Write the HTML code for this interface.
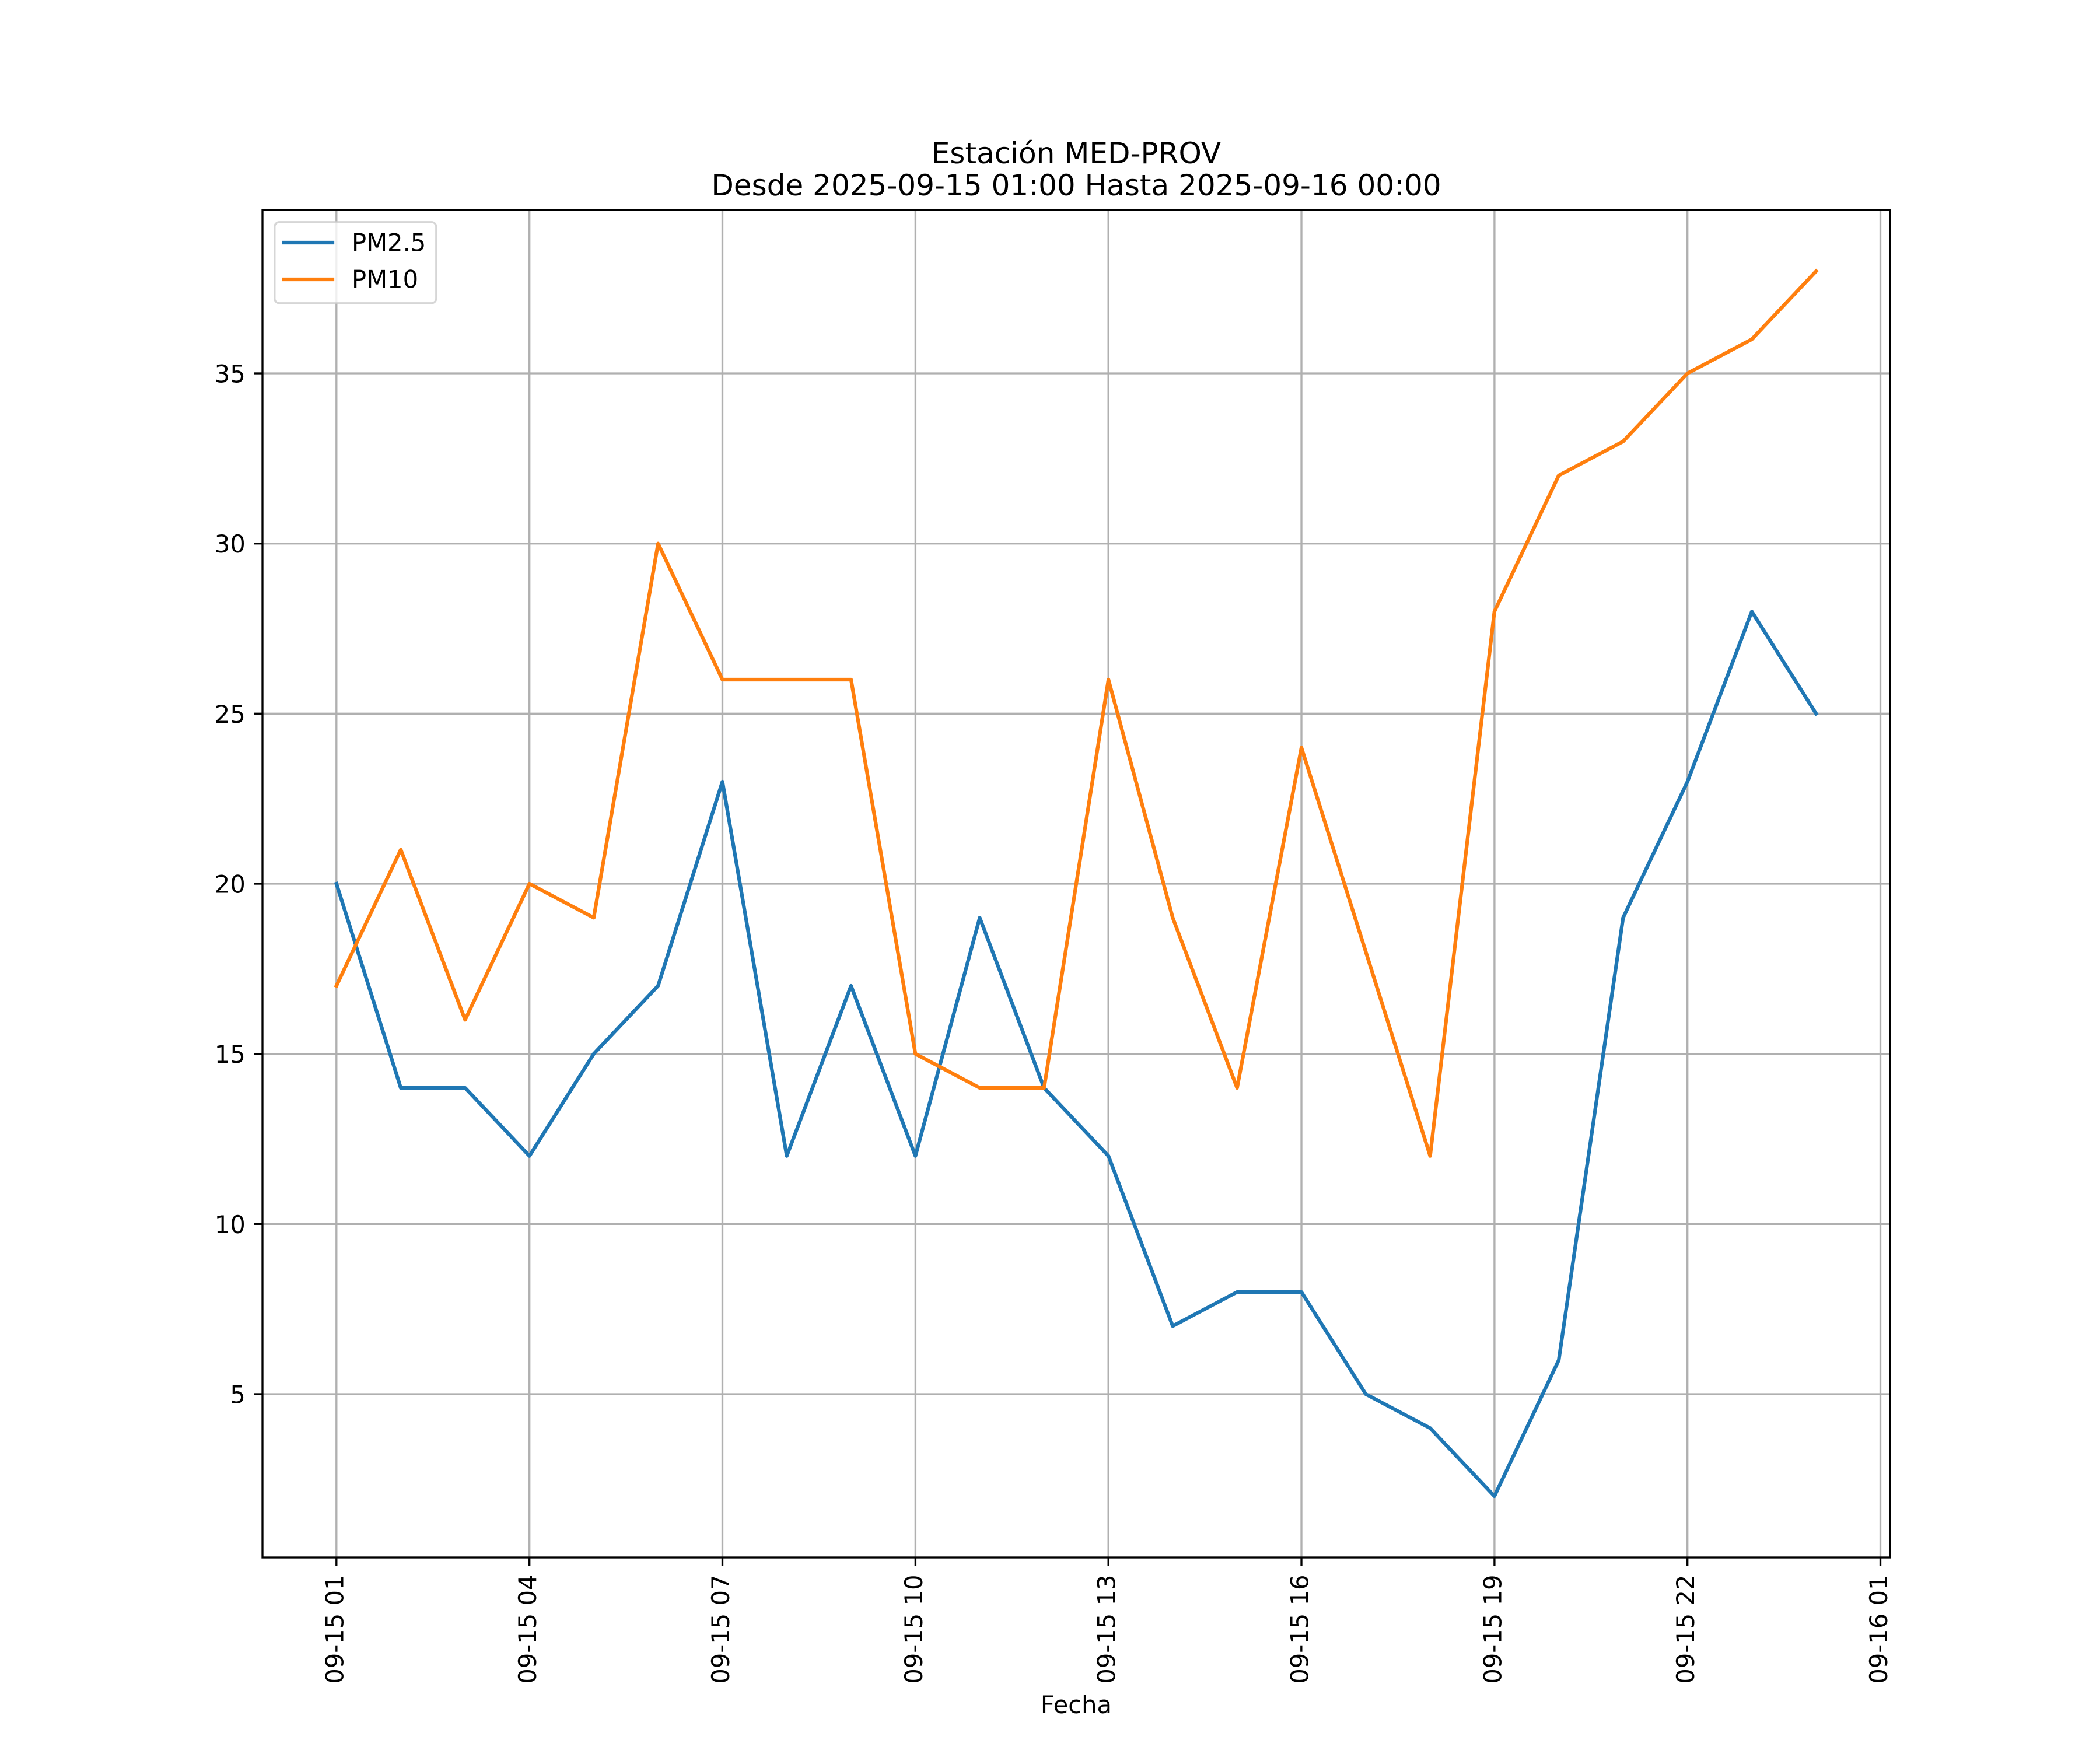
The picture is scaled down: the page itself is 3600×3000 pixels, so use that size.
<!DOCTYPE html>
<html>
<head>
<meta charset="utf-8">
<style>
html,body{margin:0;padding:0;background:#fff;}
svg{display:block;}
text{font-family:"DejaVu Sans","Liberation Sans",sans-serif;fill:#000;}
</style>
</head>
<body>
<svg width="3600" height="3000" viewBox="0 0 3600 3000" xmlns="http://www.w3.org/2000/svg">
<rect x="0" y="0" width="3600" height="3000" fill="#fff"/>
<defs>
<clipPath id="ax"><rect x="450" y="360" width="2790" height="2310"/></clipPath>
</defs>

<!-- grid -->
<g stroke="#b0b0b0" stroke-width="3.33" stroke-linecap="square" fill="none">
<line x1="576.8" y1="360" x2="576.8" y2="2670"/>
<line x1="907.7" y1="360" x2="907.7" y2="2670"/>
<line x1="1238.5" y1="360" x2="1238.5" y2="2670"/>
<line x1="1569.4" y1="360" x2="1569.4" y2="2670"/>
<line x1="1900.2" y1="360" x2="1900.2" y2="2670"/>
<line x1="2231.0" y1="360" x2="2231.0" y2="2670"/>
<line x1="2561.9" y1="360" x2="2561.9" y2="2670"/>
<line x1="2892.7" y1="360" x2="2892.7" y2="2670"/>
<line x1="3223.5" y1="360" x2="3223.5" y2="2670"/>
<line x1="450" y1="2390" x2="3240" y2="2390"/>
<line x1="450" y1="2098.3" x2="3240" y2="2098.3"/>
<line x1="450" y1="1806.7" x2="3240" y2="1806.7"/>
<line x1="450" y1="1515" x2="3240" y2="1515"/>
<line x1="450" y1="1223.3" x2="3240" y2="1223.3"/>
<line x1="450" y1="931.7" x2="3240" y2="931.7"/>
<line x1="450" y1="640" x2="3240" y2="640"/>
</g>

<!-- series -->
<g clip-path="url(#ax)" fill="none" stroke-width="6.25" stroke-linejoin="round" stroke-linecap="square">
<polyline stroke="#1f77b4" points="576.8,1515 687.1,1865 797.4,1865 907.7,1981.7 1017.9,1806.7 1128.2,1690 1238.5,1340 1348.8,1981.7 1459.0,1690 1569.3,1981.7 1679.6,1573.3 1789.9,1865 1900.2,1981.7 2010.4,2273.3 2120.7,2215 2231.0,2215 2341.3,2390 2451.6,2448.3 2561.8,2565 2672.1,2331.7 2782.4,1573.3 2892.7,1340 3003.0,1048.3 3113.2,1223.3"/>
<polyline stroke="#ff7f0e" points="576.8,1690 687.1,1456.7 797.4,1748.3 907.7,1515 1017.9,1573.3 1128.2,931.7 1238.5,1165 1348.8,1165 1459.0,1165 1569.3,1806.7 1679.6,1865 1789.9,1865 1900.2,1165 2010.4,1573.3 2120.7,1865 2231.0,1281.7 2341.3,1631.7 2451.6,1981.7 2561.8,1048.3 2672.1,815 2782.4,756.7 2892.7,640 3003.0,581.7 3113.2,465"/>
</g>

<!-- spines -->
<rect x="450" y="360" width="2790" height="2310" fill="none" stroke="#000" stroke-width="3.33" stroke-linejoin="miter"/>

<!-- ticks -->
<g stroke="#000" stroke-width="3.33">
<line x1="576.8" y1="2670" x2="576.8" y2="2684.6"/>
<line x1="907.7" y1="2670" x2="907.7" y2="2684.6"/>
<line x1="1238.5" y1="2670" x2="1238.5" y2="2684.6"/>
<line x1="1569.4" y1="2670" x2="1569.4" y2="2684.6"/>
<line x1="1900.2" y1="2670" x2="1900.2" y2="2684.6"/>
<line x1="2231.0" y1="2670" x2="2231.0" y2="2684.6"/>
<line x1="2561.9" y1="2670" x2="2561.9" y2="2684.6"/>
<line x1="2892.7" y1="2670" x2="2892.7" y2="2684.6"/>
<line x1="3223.5" y1="2670" x2="3223.5" y2="2684.6"/>
<line x1="435.4" y1="2390" x2="450" y2="2390"/>
<line x1="435.4" y1="2098.3" x2="450" y2="2098.3"/>
<line x1="435.4" y1="1806.7" x2="450" y2="1806.7"/>
<line x1="435.4" y1="1515" x2="450" y2="1515"/>
<line x1="435.4" y1="1223.3" x2="450" y2="1223.3"/>
<line x1="435.4" y1="931.7" x2="450" y2="931.7"/>
<line x1="435.4" y1="640" x2="450" y2="640"/>
</g>

<!-- y tick labels -->
<g font-size="41.67" text-anchor="end">
<text x="420.8" y="2405.5">5</text>
<text x="420.8" y="2113.8">10</text>
<text x="420.8" y="1822.2">15</text>
<text x="420.8" y="1530.5">20</text>
<text x="420.8" y="1238.8">25</text>
<text x="420.8" y="947.2">30</text>
<text x="420.8" y="655.5">35</text>
</g>

<!-- x tick labels -->
<g font-size="41.67" text-anchor="end">
<text transform="translate(588.3,2699.5) rotate(-90)">09-15 01</text>
<text transform="translate(919.2,2699.5) rotate(-90)">09-15 04</text>
<text transform="translate(1250.0,2699.5) rotate(-90)">09-15 07</text>
<text transform="translate(1580.9,2699.5) rotate(-90)">09-15 10</text>
<text transform="translate(1911.7,2699.5) rotate(-90)">09-15 13</text>
<text transform="translate(2242.5,2699.5) rotate(-90)">09-15 16</text>
<text transform="translate(2573.4,2699.5) rotate(-90)">09-15 19</text>
<text transform="translate(2904.2,2699.5) rotate(-90)">09-15 22</text>
<text transform="translate(3235.0,2699.5) rotate(-90)">09-16 01</text>
</g>

<!-- axis label -->
<text x="1845" y="2937" font-size="41.67" text-anchor="middle">Fecha</text>

<!-- title -->
<text x="1845" y="280" font-size="50" text-anchor="middle">Estación MED-PROV</text>
<text x="1845" y="335" font-size="50" text-anchor="middle">Desde 2025-09-15 01:00 Hasta 2025-09-16 00:00</text>

<!-- legend -->
<rect x="470.8" y="380.8" width="277" height="139" rx="8" ry="8" fill="#fff" fill-opacity="0.8" stroke="#cccccc" stroke-opacity="0.8" stroke-width="3.33"/>
<line x1="487" y1="416" x2="570" y2="416" stroke="#1f77b4" stroke-width="6.25" stroke-linecap="square"/>
<line x1="487" y1="479" x2="570" y2="479" stroke="#ff7f0e" stroke-width="6.25" stroke-linecap="square"/>
<text x="603" y="430.5" font-size="41.67">PM2.5</text>
<text x="603" y="493.5" font-size="41.67">PM10</text>
</svg>
</body>
</html>
